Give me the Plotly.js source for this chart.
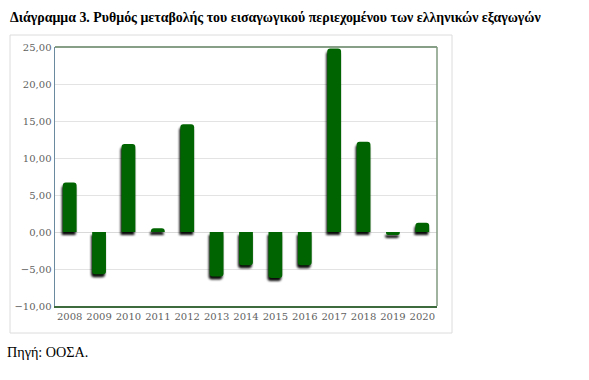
<!DOCTYPE html>
<html><head><meta charset="utf-8">
<script src="https://cdn.plot.ly/plotly-3.0.1.min.js"></script>
<style>
body{margin:0;background:#fff;}
#chart .bars .point path{filter:drop-shadow(-1px 3px 1.2px rgba(0,0,0,0.95));}
</style>
</head><body>
<div id="chart"></div>
<script>
const years = ['2008','2009','2010','2011','2012','2013','2014','2015','2016','2017','2018','2019','2020'];
const values = [6.7, -5.7, 11.9, 0.5, 14.55, -6.0, -4.5, -6.2, -4.5, 24.8, 12.2, -0.4, 1.25];
const yTicks = [-10, -5, 0, 5, 10, 15, 20, 25];
const titleText = 'Διάγραμμα 3. Ρυθμός μεταβολής του εισαγωγικού περιεχομένου των ελληνικών εξαγωγών';
const sourceText = 'Πηγή: ΟΟΣΑ.';

const W = 589, H = 380;
const L = 55, R = 437, T = 47, B = 306;
const pw = R - L, ph = B - T;
const px = x => (x - L) / pw;
const py = y => (B - y) / ph;

const trace = {
  type: 'bar', x: years, y: values,
  marker: {color: '#006400', cornerradius: 3, line: {width: 0}},
  width: 0.47, hoverinfo: 'skip'
};

const layout = {
  width: W, height: H,
  margin: {l: L, r: W - R, t: T, b: H - B},
  paper_bgcolor: '#ffffff', plot_bgcolor: '#ffffff',
  separators: ', ',
  showlegend: false,
  font: {family: 'DejaVu Serif', size: 10, color: '#595959'},
  xaxis: {type: 'category', showgrid: false, showline: true, linecolor: '#3d6b3d', linewidth: 1.5,
          ticks: '', tickfont: {family: 'DejaVu Serif', size: 10, color: '#5f5f5f'}, fixedrange: true},
  yaxis: {range: [-10, 25], tickvals: yTicks, tickformat: '.2f', showgrid: true, gridcolor: '#e3e3e3',
          zeroline: true, zerolinecolor: '#d9d9d9', zerolinewidth: 1,
          showline: true, linecolor: '#6a8aa0', linewidth: 1.5, ticks: '',
          tickfont: {family: 'DejaVu Serif', size: 10, color: '#5f5f5f'}, fixedrange: true},
  shapes: [
    {type: 'rect', xref: 'paper', yref: 'paper', x0: px(10), x1: px(452), y0: py(333), y1: py(35),
     line: {color: '#dcdcdc', width: 1}, fillcolor: 'rgba(0,0,0,0)', layer: 'below'},
    {type: 'line', xref: 'paper', yref: 'paper', x0: 0, x1: 1, y0: 1, y1: 1, line: {color: '#5f7f5f', width: 1.5}},
    {type: 'line', xref: 'paper', yref: 'paper', x0: 1, x1: 1, y0: 0, y1: 1, line: {color: '#7f9a7f', width: 1.5}}
  ],
  annotations: [
    {text: '<b>' + titleText + '</b>', xref: 'paper', yref: 'paper', x: px(8), y: py(17),
     xanchor: 'left', yanchor: 'middle', showarrow: false,
     font: {family: 'Liberation Serif', size: 13.9, color: '#000'}},
    {text: sourceText, xref: 'paper', yref: 'paper', x: px(5), y: py(352),
     xanchor: 'left', yanchor: 'middle', showarrow: false,
     font: {family: 'Liberation Serif', size: 14.2, color: '#000'}}
  ]
};

Plotly.newPlot('chart', [trace], layout, {displayModeBar: false, staticPlot: true});
</script>
</body></html>
